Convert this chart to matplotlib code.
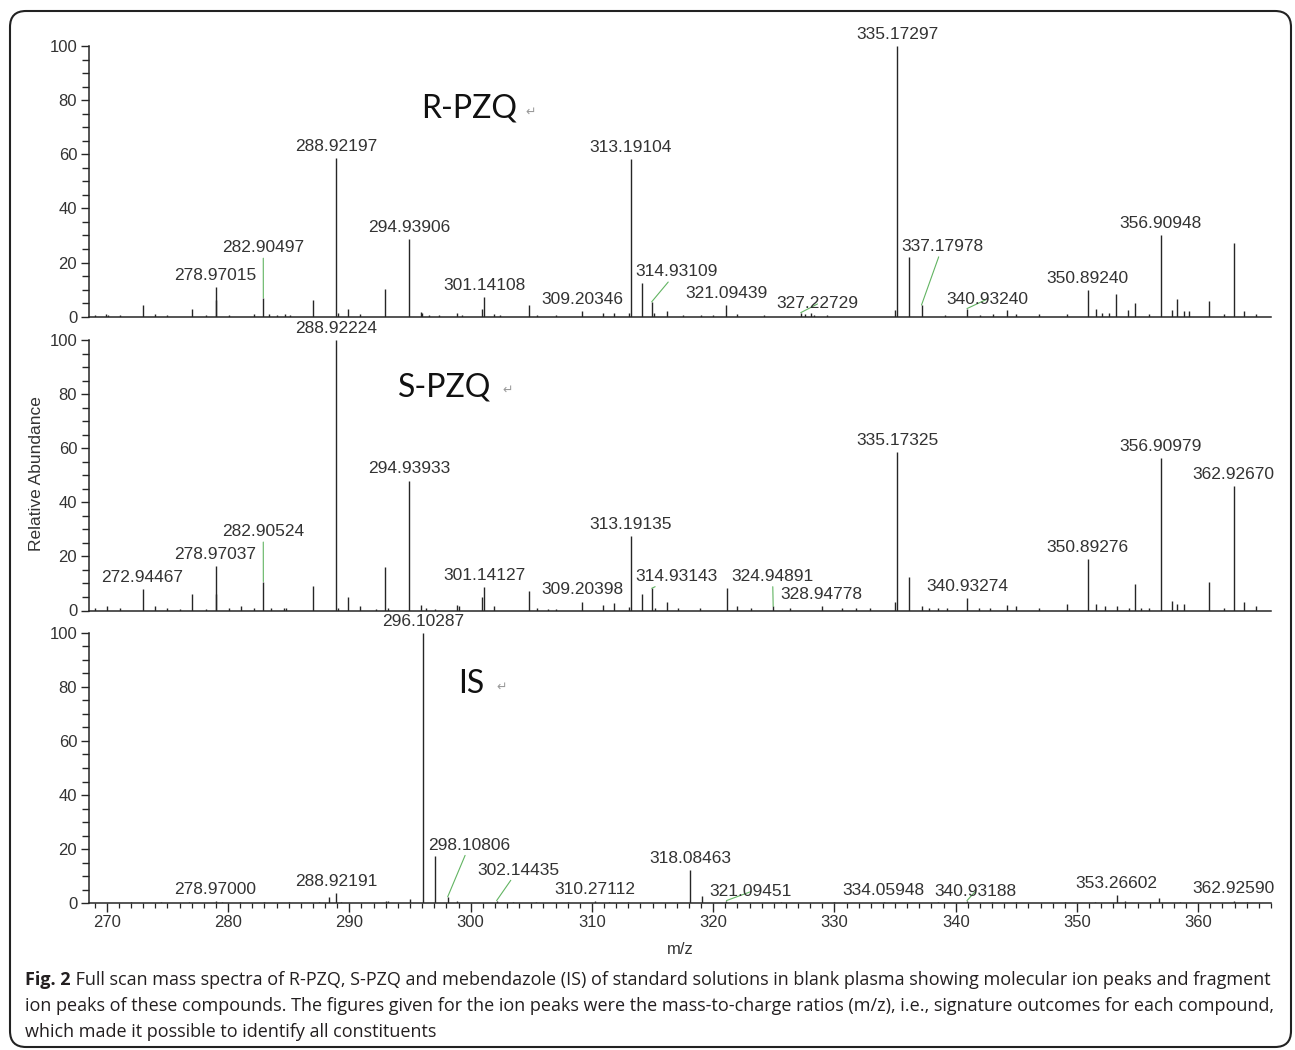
import numpy as np
import matplotlib.pyplot as plt
from matplotlib.patches import FancyBboxPatch
from matplotlib.ticker import MultipleLocator
from matplotlib.transforms import IdentityTransform

# ---- R-PZQ spectrum (m/z, relative abundance %) ----
r_mz = [269.0, 269.9, 270.1, 271.1, 272.97, 274.0, 275.0, 277.06, 278.2, 278.97015,
        279.02, 280.1, 282.1, 282.90497, 283.4, 284.0, 284.7, 285.1, 286.98, 288.92197,
        289.1, 289.92, 290.9, 292.97, 294.93906, 295.9, 296.0, 296.6, 297.4, 298.9,
        299.3, 300.92, 301.14108, 301.9, 302.4, 304.85, 305.5, 307.0, 309.20346, 310.9,
        311.8, 313.1, 313.19104, 314.17, 314.93109, 315.1, 316.2, 317.5, 319.0, 320.0,
        321.09439, 322.0, 324.2, 327.22729, 327.6, 328.1, 328.3, 329.4, 335.02, 335.17297,
        336.17, 337.17978, 339.1, 340.93240, 342.0, 343.1, 344.2, 345.0, 346.9, 349.2,
        350.89240, 351.55, 352.1, 352.6, 353.2, 354.2, 354.8, 355.9, 356.90948, 357.8,
        358.25, 358.8, 359.2, 360.9, 362.1, 362.93, 363.8, 364.8]
r_int = [0.8, 0.9, 0.7, 0.8, 4.3, 1.0, 0.8, 2.8, 0.7, 11.0,
         6.0, 0.6, 1.0, 7.0, 1.0, 0.8, 0.9, 0.6, 6.2, 58.5,
         1.2, 2.8, 1.0, 10.2, 28.6, 1.8, 1.5, 0.8, 0.6, 1.5,
         0.8, 2.8, 7.3, 1.0, 0.8, 4.4, 0.8, 0.6, 2.0, 1.5,
         1.5, 1.2, 58.2, 12.3, 5.5, 1.5, 2.0, 0.6, 0.6, 0.6,
         4.3, 1.0, 0.6, 1.5, 1.0, 1.2, 0.8, 0.8, 2.5, 100.0,
         22.2, 4.3, 0.8, 3.0, 0.6, 1.0, 2.5, 1.0, 1.0, 1.0,
         9.9, 2.8, 1.5, 1.5, 8.3, 2.3, 4.9, 1.0, 30.2, 2.4,
         6.4, 2.0, 2.0, 5.9, 1.0, 27.1, 2.2, 1.0]
r_labels = ["278.97015", "282.90497", "288.92197", "294.93906", "301.14108", "309.20346",
            "313.19104", "314.93109", "321.09439", "327.22729", "335.17297", "337.17978",
            "340.93240", "350.89240", "356.90948"]

# ---- S-PZQ spectrum ----
s_mz = [269.0, 270.0, 271.1, 272.94467, 274.0, 275.0, 276.0, 277.06, 278.2, 278.97037,
        279.02, 280.1, 281.1, 282.1, 282.90524, 283.5, 284.6, 284.8, 286.98, 288.92224,
        289.1, 289.92, 290.9, 292.2, 292.97, 293.2, 294.93933, 295.9, 296.3, 297.1,
        298.9, 299.0, 300.92, 301.14127, 301.9, 304.85, 305.5, 306.4, 307.0, 309.20398,
        310.9, 311.8, 313.1, 313.19135, 314.17, 314.93143, 315.2, 316.2, 317.1, 318.9,
        321.1, 322.0, 323.1, 324.94891, 326.3, 328.94778, 330.6, 331.8, 332.9, 335.0,
        335.17325, 336.17, 337.2, 337.8, 338.5, 339.3, 340.93274, 341.9, 342.8, 344.2,
        345.0, 346.9, 349.2, 350.89276, 351.55, 352.3, 353.3, 354.3, 354.8, 355.3,
        355.9, 356.90979, 357.8, 358.25, 358.8, 360.9, 362.1, 362.92670, 363.8, 364.8]
s_int = [0.8, 1.5, 1.0, 7.8, 1.5, 1.0, 0.6, 6.1, 0.7, 16.4,
         6.0, 1.0, 1.5, 1.0, 10.7, 0.8, 1.0, 1.0, 9.2, 100.0,
         1.0, 5.1, 1.8, 0.6, 16.0, 1.0, 48.0, 2.0, 1.0, 0.6,
         2.2, 1.5, 5.1, 8.8, 1.5, 7.3, 1.0, 0.6, 0.6, 3.3,
         2.0, 2.7, 1.2, 27.5, 6.1, 8.2, 1.0, 3.3, 1.0, 1.0,
         8.2, 1.5, 1.0, 1.5, 1.0, 1.5, 1.0, 1.0, 0.8, 3.3,
         58.7, 12.3, 1.5, 1.0, 1.0, 1.0, 4.7, 1.0, 1.0, 1.9,
         1.5, 1.0, 2.3, 19.0, 2.3, 1.5, 1.5, 1.0, 9.7, 1.0,
         1.0, 56.5, 3.6, 2.3, 2.3, 10.4, 1.0, 46.1, 3.3, 1.7]
s_labels = ["272.94467", "278.97037", "282.90524", "288.92224", "294.93933", "301.14127",
            "309.20398", "313.19135", "314.93143", "324.94891", "328.94778", "335.17325",
            "340.93274", "350.89276", "356.90979", "362.92670"]

# ---- mebendazole (IS) spectrum ----
i_mz = [272.0, 274.5, 276.8, 278.97000, 279.5, 281.0, 283.0, 285.0, 287.5, 288.3,
        288.92191, 289.3, 293.0, 293.2, 295.0, 296.10287, 297.1, 298.10806, 298.9, 302.14435,
        303.5, 305.4, 308.0, 310.27112, 311.4, 313.0, 318.08463, 319.1, 321.09451, 325.6,
        330.0, 334.05948, 338.5, 340.93188, 343.0, 345.0, 349.0, 351.5, 353.26602, 354.0,
        356.8, 358.5, 362.92590, 364.0]
i_int = [0.4, 0.4, 0.4, 0.8, 0.5, 0.4, 0.4, 0.5, 0.6, 2.4,
         3.7, 0.6, 1.0, 0.8, 1.5, 100.0, 17.6, 2.4, 1.0, 1.0,
         0.5, 0.5, 0.5, 0.8, 0.6, 0.5, 12.3, 2.7, 1.0, 0.5,
         0.5, 0.6, 0.5, 1.0, 0.5, 0.6, 0.5, 0.6, 3.0, 0.8,
         1.8, 0.6, 1.0, 0.5]
i_labels = ["278.97000", "288.92191", "296.10287", "298.10806", "302.14435", "310.27112",
            "318.08463", "321.09451", "334.05948", "340.93188", "353.26602", "362.92590"]

# label placements for peaks whose labels sit away from the stick (m/z, abundance)
r_callouts = {"282.90497": (282.9, 25.4), "314.93109": (317.0, 16.6),
              "327.22729": (328.6, 4.7), "337.17978": (338.9, 25.9),
              "340.93240": (342.6, 6.5)}
s_callouts = {"282.90524": (282.9, 29.1), "314.93143": (317.0, 12.6),
              "324.94891": (324.9, 12.6)}
i_callouts = {"298.10806": (299.9, 21.5), "302.14435": (303.9, 12.3),
              "321.09451": (323.1, 4.3), "340.93188": (341.6, 4.3)}

caption_lines = [
    "Full scan mass spectra of R-PZQ, S-PZQ and mebendazole (IS) of standard solutions "
    "in blank plasma showing molecular ion peaks and fragment",
    "ion peaks of these compounds. The figures given for the ion peaks were the "
    "mass-to-charge ratios (m/z), i.e., signature outcomes for each compound,",
    "which made it possible to identify all constituents",
]

W, H = 1295, 1050
INK = "#262626"
GREEN = "#62b462"

plt.rcParams["font.family"] = ["Liberation Sans", "DejaVu Sans"]
fig = plt.figure(figsize=(W / 100, H / 100), dpi=100)


def px(x, y):
    return x / W, 1 - y / H


def draw_panel(rect, mz, inten, labels, callouts, bottom=False):
    ax = fig.add_axes(rect)
    mz = np.asarray(mz)
    inten = np.asarray(inten)
    ax.vlines(mz, 0, inten, color=INK, lw=1.0)
    ax.set_xlim(268.53, 366.0)
    ax.set_ylim(0, 100)
    for s in ("top", "right"):
        ax.spines[s].set_visible(False)
    for s in ("left", "bottom"):
        ax.spines[s].set_color(INK)
        ax.spines[s].set_linewidth(1.1)
    ax.yaxis.set_major_locator(MultipleLocator(20))
    ax.yaxis.set_minor_locator(MultipleLocator(5))
    ax.tick_params(axis="y", which="major", length=5.5, width=1, color=INK,
                   labelsize=12, labelcolor="#333333", pad=3)
    ax.tick_params(axis="y", which="minor", length=5, width=1, color=INK)
    if bottom:
        ax.xaxis.set_major_locator(MultipleLocator(10))
        ax.xaxis.set_minor_locator(MultipleLocator(1))
        ax.tick_params(axis="x", which="major", length=6.5, width=1, color=INK,
                       labelsize=12, labelcolor="#333333", pad=2)
        ax.tick_params(axis="x", which="minor", length=3.5, width=0.9, color=INK)
    else:
        ax.tick_params(axis="x", which="both", bottom=False, labelbottom=False)

    for lab in labels:
        k = np.argmin(np.abs(mz - float(lab)))
        x, y = mz[k], inten[k]
        if lab in callouts:
            ax.annotate(lab, xy=(x, y), xytext=callouts[lab], textcoords="data",
                        ha="center", va="center", fontsize=12.5, color="#333333",
                        annotation_clip=False,
                        arrowprops=dict(arrowstyle="-", color=GREEN, lw=0.8,
                                        shrinkA=0, shrinkB=0))
        else:
            ax.annotate(lab, xy=(x, y), xytext=(0, 3), textcoords="offset points",
                        ha="center", va="bottom", fontsize=12.5, color="#333333",
                        annotation_clip=False)
    return ax


left, width = 89 / W, 1182 / W
draw_panel([left, (H - 316.7) / H, width, 270.7 / H], r_mz, r_int, r_labels, r_callouts)
draw_panel([left, (H - 610.5) / H, width, 270.5 / H], s_mz, s_int, s_labels, s_callouts)
draw_panel([left, (H - 903.3) / H, width, 270.6 / H], i_mz, i_int, i_labels, i_callouts,
           bottom=True)

# compound names, each followed by a stray paragraph mark
for name, (x, y), (mx, my) in [("R-PZQ", (421, 118), (525, 116)),
                               ("S-PZQ", (398, 397), (502, 394)),
                               ("IS", (458, 693), (496, 691))]:
    fig.text(*px(x, y), name, fontsize=23, family=["Lato", "DejaVu Sans"],
             color="#111111", ha="left", va="baseline")
    fig.text(*px(mx, my), "\u21b5", fontsize=9, family="DejaVu Sans",
             color="#9a9a9a", ha="left", va="baseline")

fig.text(*px(37, 474), "Relative Abundance", rotation=90, ha="center", va="center",
         fontsize=12.5, color="#333333")
fig.text(*px(680, 949), "m/z", ha="center", va="center", fontsize=12, color="#333333")

# caption: bold "Fig. 2" then the text, fitted to the frame width
cap_font = ["Open Sans", "DejaVu Sans"]
cap_kw = dict(family=cap_font, color="#231f20")
fs = 12.5
head = fig.text(*px(25, 985), "Fig. 2", fontsize=fs, weight="bold", ha="left",
                va="baseline", **cap_kw)
first = fig.text(0, 0, " " + caption_lines[0], fontsize=fs, ha="left", va="baseline",
                 **cap_kw)
rest = [fig.text(*px(25, y), line, fontsize=fs, ha="left", va="baseline", **cap_kw)
        for line, y in zip(caption_lines[1:], (1011, 1037))]

fig.canvas.draw()
r = fig.canvas.get_renderer()
w_head = head.get_window_extent(r).width
w_first = first.get_window_extent(r).width
scale = (1275 - 25) / (w_head + w_first)
for t in [head, first] + rest:
    t.set_fontsize(fs * scale)
fig.canvas.draw()
hb = head.get_window_extent(fig.canvas.get_renderer())
first.set_position((hb.x1 / W, 1 - 985 / H))

# rounded frame around the whole figure
frame = FancyBboxPatch((10, 3), 1281, 1036, boxstyle="round,pad=0,rounding_size=16",
                       transform=IdentityTransform(), fill=False, lw=1.5,
                       edgecolor="#222222", clip_on=False)
fig.patches.append(frame)

fig.savefig("out.png", dpi=100)
